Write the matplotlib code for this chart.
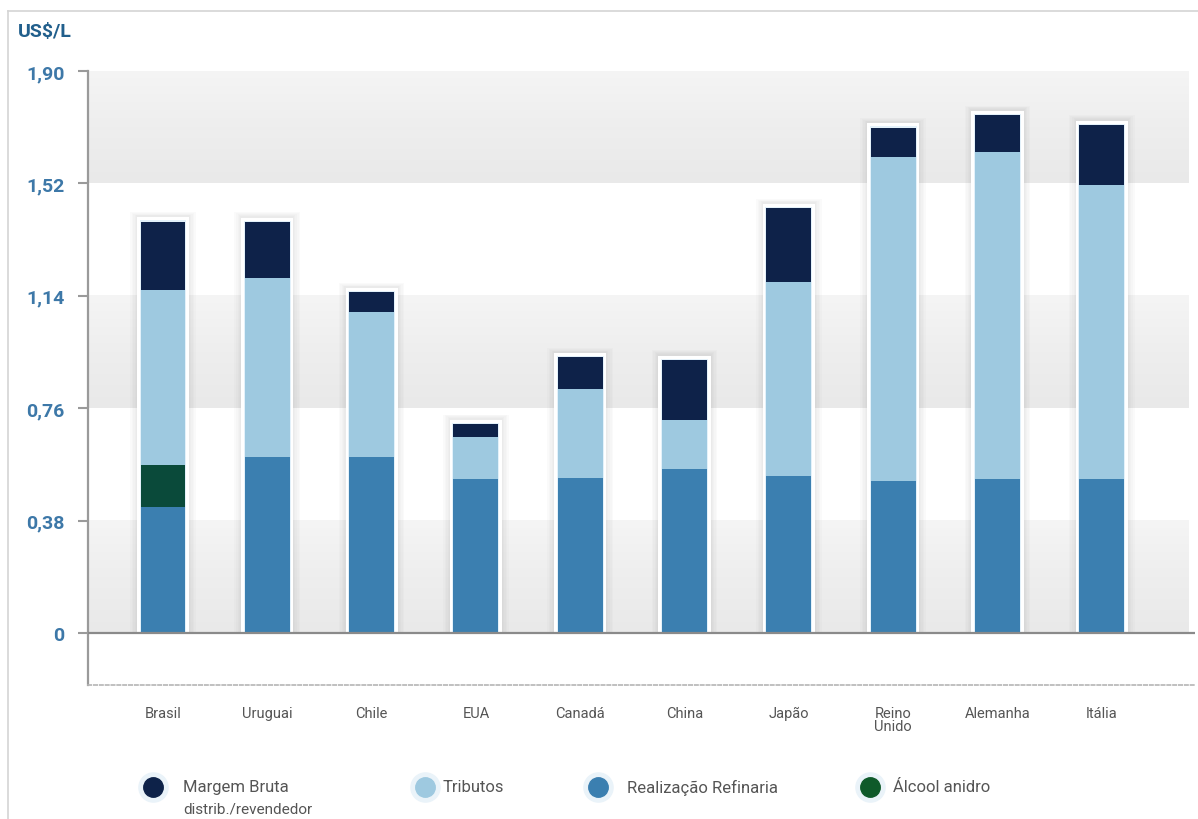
import numpy as np
import matplotlib
matplotlib.use("Agg")
import matplotlib.pyplot as plt
from matplotlib.lines import Line2D

# ---- data ----
countries = ["Brasil", "Uruguai", "Chile", "EUA", "Canadá", "China", "Japão",
             "Reino\nUnido", "Alemanha", "Itália"]
refinaria = [0.425, 0.596, 0.596, 0.521, 0.523, 0.554, 0.532, 0.515, 0.521, 0.521]
alcool    = [0.144, 0, 0, 0, 0, 0, 0, 0, 0, 0]
tributos  = [0.592, 0.603, 0.488, 0.141, 0.304, 0.166, 0.656, 1.093, 1.104, 0.994]
margem    = [0.230, 0.191, 0.068, 0.045, 0.105, 0.204, 0.248, 0.101, 0.126, 0.203]
yticks = [0, 0.38, 0.76, 1.14, 1.52, 1.90]
ytick_labels = ["0", "0,38", "0,76", "1,14", "1,52", "1,90"]
legend_labels = ["Margem Bruta", "Tributos", "Realização Refinaria", "Álcool anidro"]
legend_sub = "distrib./revendedor"

c_margem = "#0e2249"
c_trib = "#9ec9e0"
c_ref = "#3b7fb0"
c_alc = "#0a4a3a"
c_alc_leg = "#0f5a2a"
tick_col = "#3d78a8"

plt.rcParams['font.family'] = ['Roboto', 'DejaVu Sans']

fig = plt.figure(figsize=(11.98, 8.2), dpi=100)
ax = fig.add_axes([88/1198, 1-686/820, (1195-88)/1198, (686-72)/820])

x = np.arange(len(countries))
xmin, xmax = -0.719, 9.894
ax.set_xlim(xmin, xmax)
ax.set_ylim(-0.175, 1.90)

# background bands (light gray, vertical gradient, alternating with white)
grad = np.linspace(0, 1, 256).reshape(-1, 1)
cmap_band = matplotlib.colors.LinearSegmentedColormap.from_list(
    "g", ["#e9e9e9", "#eeeeee", "#f5f5f5"])
band_right = 9.83
for lo, hi in [(0, 0.38), (0.76, 1.14), (1.52, 1.90)]:
    ax.imshow(grad, extent=(xmin, band_right, lo, hi), aspect='auto', origin='lower',
              cmap=cmap_band, vmin=0, vmax=1, zorder=0, interpolation='bicubic')

# bar halos / soft shadows
r = np.array(refinaria); a = np.array(alcool); t = np.array(tributos); m = np.array(margem)
totals = r + a + t + m
w = 0.43
for dw in [0.20, 0.17, 0.14, 0.11, 0.09]:
    ax.bar(x, totals + 0.012 + dw * 0.10, width=w + dw, bottom=0,
           color="#8a8a8a", alpha=0.035, zorder=1, linewidth=0)
ax.bar(x, totals + 0.014, width=w + 0.07, bottom=0, color="white", zorder=2, linewidth=0)
ax.bar(x, totals + 0.004, width=w + 0.02, bottom=0, color="#e3f1fa", zorder=2, linewidth=0)

# stacked segments
ax.bar(x, r, width=w, color=c_ref, zorder=3, linewidth=0)
ax.bar(x, a, width=w, bottom=r, color=c_alc, zorder=3, linewidth=0)
ax.bar(x, t, width=w, bottom=r + a, color=c_trib, zorder=3, linewidth=0)
ax.bar(x, m, width=w, bottom=r + a + t, color=c_margem, zorder=3, linewidth=0)

# zero line
ax.axhline(0, color="#8a8a8a", lw=1.6, zorder=4)

# spines
for s in ["top", "right"]:
    ax.spines[s].set_visible(False)
ax.spines["left"].set_color("#9a9a9a")
ax.spines["left"].set_linewidth(1.6)
ax.spines["bottom"].set_color("#b5b5b5")
ax.spines["bottom"].set_linewidth(1.2)
ax.spines["bottom"].set_linestyle((0, (2, 1.5)))

ax.set_yticks(yticks)
ax.set_yticklabels(ytick_labels, color=tick_col, fontsize=14, fontweight='bold')
ax.tick_params(axis='y', length=7, width=1.5, color="#9a9a9a", pad=10)
ax.set_xticks(x)
ax.set_xticklabels(countries, fontsize=10.5, color="#555555", linespacing=0.9)
ax.tick_params(axis='x', length=0, pad=15)

# unit label
fig.text(18/1198, 1-32/820, "US$/L", fontsize=14, fontweight='bold', color="#215f8c",
         va='center', ha='left')

# outer frame
fig.add_artist(Line2D([8/1198, 8/1198], [0, 1-12/820], color="#d4d4d4", lw=1.2,
                      transform=fig.transFigure))
fig.add_artist(Line2D([8/1198, 1], [1-12/820, 1-12/820], color="#d4d4d4", lw=1.2,
                      transform=fig.transFigure))

# legend (custom placement)
leg_colors = [c_margem, c_trib, c_ref, c_alc_leg]
leg_x = [153, 425, 598, 870]
text_x = [183, 443, 627, 893]
ly = 1 - 788/820
for col, cx, tx, lab in zip(leg_colors, leg_x, text_x, legend_labels):
    fig.add_artist(Line2D([cx/1198], [ly], marker='o', markersize=21, color="#eaf3f9",
                          transform=fig.transFigure, linestyle='none'))
    fig.add_artist(Line2D([cx/1198], [ly], marker='o', markersize=14, color=col,
                          transform=fig.transFigure, linestyle='none'))
    fig.text(tx/1198, ly, lab, fontsize=12, color="#555555", va='center', ha='left')
fig.text(183/1198, 1 - 810/820, legend_sub, fontsize=11, color="#555555",
         va='center', ha='left')

fig.savefig("out.png", dpi=100, facecolor="white")
